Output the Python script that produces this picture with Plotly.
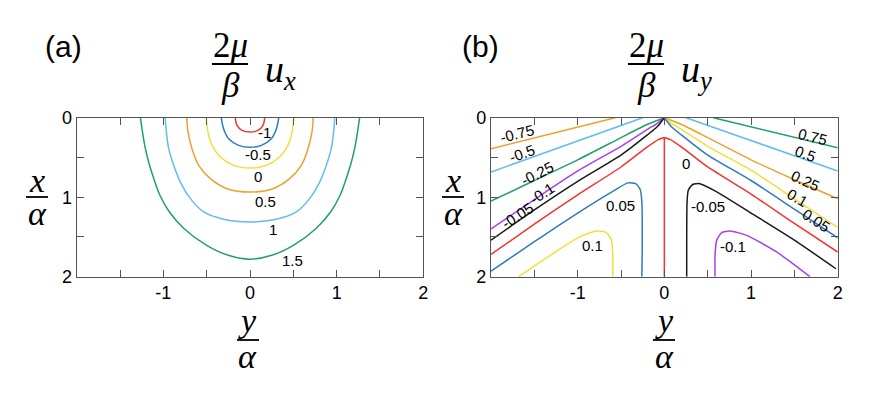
import plotly.graph_objects as go

# ---- panel (a): 2mu/beta * u_x, contour lines ----
# horizontal = y/a, vertical = x/a (depth)
ux_levels = ['-1', '-0.5', '0', '0.5', '1', '1.5']
ux_colors = ['#F4332E', '#2B7BC0', '#F3DE3A', '#EDA12B', '#62BDEC', '#21A06E']

ux_m1_y = [-0.17, -0.15, -0.092, 0, 0.092, 0.15, 0.17]
ux_m1_x = [0, 0.096, 0.159, 0.18, 0.159, 0.096, 0]
ux_m05_y = [-0.332, -0.305, -0.246, -0.131, 0, 0.131, 0.246, 0.305, 0.332]
ux_m05_x = [0, 0.138, 0.264, 0.348, 0.373, 0.348, 0.264, 0.138, 0]
ux_0_y = [-0.505, -0.485, -0.438, -0.342, -0.188, 0, 0.188, 0.342, 0.438, 0.485, 0.505]
ux_0_x = [0, 0.18, 0.348, 0.494, 0.60, 0.633, 0.60, 0.494, 0.348, 0.18, 0]
ux_05_y = [-0.73, -0.715, -0.669, -0.592, -0.457, -0.265, 0, 0.265, 0.457, 0.592, 0.669, 0.715, 0.73]
ux_05_x = [0, 0.18, 0.39, 0.60, 0.767, 0.893, 0.935, 0.893, 0.767, 0.60, 0.39, 0.18, 0]
ux_1_y = [-0.978, -0.965, -0.938, -0.880, -0.804, -0.688, -0.534, -0.304, 0,
          0.304, 0.534, 0.688, 0.804, 0.880, 0.938, 0.965, 0.978]
ux_1_x = [0, 0.18, 0.39, 0.60, 0.81, 1.018, 1.186, 1.278, 1.312,
          1.278, 1.186, 1.018, 0.81, 0.60, 0.39, 0.18, 0]
ux_15_y = [-1.265, -1.215, -1.17, -1.11, -1.04, -0.93, -0.76, -0.50, -0.25, 0,
           0.25, 0.50, 0.76, 0.93, 1.04, 1.11, 1.17, 1.215, 1.265]
ux_15_x = [0, 0.348, 0.557, 0.767, 0.976, 1.186, 1.396, 1.605, 1.731, 1.78,
           1.731, 1.605, 1.396, 1.186, 0.976, 0.767, 0.557, 0.348, 0]

ux_lab_text = ['-1', '-0.5', '0', '0.5', '1', '1.5']
ux_lab_y = [0.165, 0.089, 0.089, 0.177, 0.262, 0.492]
ux_lab_x = [0.184, 0.469, 0.742, 1.057, 1.404, 1.80]

# ---- panel (b): 2mu/beta * u_y ----
uy_m075_y = [-2.0, -0.565]
uy_m075_x = [0.39, 0]
uy_m05_y = [-2.0, -0.25]
uy_m05_x = [0.683, 0]
uy_m025_y = [-2.0, -1.5, -1.0, -0.5, -0.2, 0]
uy_m025_x = [1.05, 0.79, 0.53, 0.25, 0.085, 0]
uy_m01_y = [-2.0, -1.5, -1.0, -0.5, -0.2, -0.08, 0]
uy_m01_x = [1.40, 1.03, 0.67, 0.36, 0.15, 0.07, 0]
uy_m005_y = [-2.0, -1.5, -1.0, -0.5, -0.2, -0.08, 0]
uy_m005_x = [1.54, 1.16, 0.80, 0.47, 0.22, 0.11, 0]
uy_0l_y = [-2.0, -1.5, -1.0, -0.5, -0.2, -0.07, 0]
uy_0l_x = [1.72, 1.34, 0.97, 0.62, 0.37, 0.275, 0.25]
uy_005l_y = [-2.0, -1.5, -1.0, -0.6, -0.42, -0.33, -0.28, -0.26, -0.255, -0.26]
uy_005l_x = [1.93, 1.56, 1.2, 0.93, 0.82, 0.83, 0.9, 1.05, 1.6, 2.0]
uy_01l_y = [-1.68, -1.26, -0.96, -0.78, -0.67, -0.61, -0.595, -0.595]
uy_01l_x = [2.0, 1.69, 1.49, 1.425, 1.445, 1.54, 1.73, 2.0]
uy_0v_y = [0, 0]
uy_0v_x = [0.25, 2.0]

uy_075_y = [0.565, 2.0]
uy_075_x = [0, 0.377]
uy_05_y = [0.25, 2.0]
uy_05_x = [0, 0.67]
uy_025_y = [0, 0.2, 0.5, 1.0, 1.5, 2.0]
uy_025_x = [0, 0.085, 0.25, 0.53, 0.78, 1.02]
uy_01_y = [0, 0.08, 0.2, 0.5, 1.0, 1.5, 2.0]
uy_01_x = [0, 0.07, 0.15, 0.36, 0.66, 1.02, 1.38]
uy_005_y = [0, 0.08, 0.2, 0.5, 1.0, 1.5, 2.0]
uy_005_x = [0, 0.11, 0.22, 0.47, 0.79, 1.15, 1.51]
uy_0r_y = [0, 0.07, 0.2, 0.5, 1.0, 1.5, 2.0]
uy_0r_x = [0.25, 0.275, 0.37, 0.62, 0.96, 1.33, 1.69]
uy_m005r_y = [0.258, 0.258, 0.262, 0.277, 0.327, 0.41, 0.6, 1.0, 1.5, 1.98]
uy_m005r_x = [2.0, 1.6, 1.06, 0.91, 0.84, 0.83, 0.93, 1.2, 1.54, 1.9]
uy_m01r_y = [0.585, 0.585, 0.604, 0.662, 0.758, 0.95, 1.296, 1.68]
uy_m01r_x = [2.0, 1.73, 1.54, 1.446, 1.425, 1.48, 1.689, 2.0]

c_red, c_blue, c_yel, c_org = '#F4332E', '#2B7BC0', '#F3DE3A', '#EDA12B'
c_lblue, c_green, c_purp, c_blk = '#62BDEC', '#21A06E', '#A640EE', '#1A1A1A'

uy_lines = [
    (uy_m075_y, uy_m075_x, c_org), (uy_m05_y, uy_m05_x, c_lblue),
    (uy_m025_y, uy_m025_x, c_green), (uy_m01_y, uy_m01_x, c_purp),
    (uy_m005_y, uy_m005_x, c_blk), (uy_0l_y, uy_0l_x, c_red),
    (uy_005l_y, uy_005l_x, c_blue), (uy_01l_y, uy_01l_x, c_yel),
    (uy_0v_y, uy_0v_x, c_red),
    (uy_075_y, uy_075_x, c_green), (uy_05_y, uy_05_x, c_lblue),
    (uy_025_y, uy_025_x, c_org), (uy_01_y, uy_01_x, c_yel),
    (uy_005_y, uy_005_x, c_blue), (uy_0r_y, uy_0r_x, c_red),
    (uy_m005r_y, uy_m005r_x, c_blk), (uy_m01r_y, uy_m01r_x, c_purp),
]

uy_lab_text = ['-0.75', '-0.5', '-0.25', '-0.1', '-0.05', '0.05', '0.1', '0',
               '-0.05', '-0.1', '0.75', '0.5', '0.25', '0.1', '0.05']
uy_lab_y = [-1.70, -1.645, -1.47, -1.414, -1.70, -0.511, -0.83, 0.247,
            0.50, 0.796, 1.707, 1.623, 1.623, 1.534, 1.758]
uy_lab_x = [0.197, 0.448, 0.70, 0.951, 1.224, 1.107, 1.61, 0.574,
            1.12, 1.62, 0.239, 0.448, 0.784, 1.006, 1.287]
uy_lab_ang = [-14, -20, -27, -33, -33, 0, 0, 0, 0, 0, 14, 20, 25, 30, 33]

x_ticks = [-2, -1.5, -1, -0.5, 0, 0.5, 1, 1.5, 2]
x_ticktext = ['', '', '-1', '', '0', '', '1', '', '2']
y_ticks = [0, 0.5, 1, 1.5, 2]
y_ticktext = ['0', '', '1', '', '2']

# the page body has an 8px margin, so the figure sits at (8, 8) in the window
OFF = 8
W, H = 873 - 2 * OFF, 394 - 2 * OFF
SANS = 'Liberation Sans, Arial, sans-serif'
SERIF = 'Liberation Serif, Times New Roman, serif'


def fx(px):
    return (px - OFF) / W


def fy(py):
    return 1 - (py - OFF) / H


fig = go.Figure()

ux_curves = [(ux_m1_y, ux_m1_x), (ux_m05_y, ux_m05_x), (ux_0_y, ux_0_x),
             (ux_05_y, ux_05_x), (ux_1_y, ux_1_x), (ux_15_y, ux_15_x)]
for (yy, xx), col in zip(ux_curves, ux_colors):
    fig.add_trace(go.Scatter(x=yy, y=xx, mode='lines', xaxis='x', yaxis='y',
                             line=dict(color=col, width=1.5, shape='spline', smoothing=1.0),
                             hoverinfo='skip', showlegend=False))

for yy, xx, col in uy_lines:
    fig.add_trace(go.Scatter(x=yy, y=xx, mode='lines', xaxis='x2', yaxis='y2',
                             line=dict(color=col, width=1.5, shape='spline', smoothing=0.6),
                             hoverinfo='skip', showlegend=False))

ann = []
for t, yy, xx in zip(ux_lab_text, ux_lab_y, ux_lab_x):
    ann.append(dict(x=yy, y=xx, xref='x', yref='y', text=t, showarrow=False,
                    font=dict(family=SANS, size=15, color='black')))
for t, yy, xx, a in zip(uy_lab_text, uy_lab_y, uy_lab_x, uy_lab_ang):
    ann.append(dict(x=yy, y=xx, xref='x2', yref='y2', text=t, showarrow=False,
                    textangle=a, font=dict(family=SANS, size=15, color='black')))


def txt(x, y, s, size, family=SERIF):
    ann.append(dict(x=fx(x), y=fy(y), xref='paper', yref='paper', text=s,
                    showarrow=False, xanchor='center', yanchor='middle',
                    font=dict(family=family, size=size, color='black')))


shapes = []


def bar(x0, x1, y):
    shapes.append(dict(type='line', xref='paper', yref='paper',
                       x0=fx(x0), x1=fx(x1), y0=fy(y), y1=fy(y),
                       line=dict(color='black', width=1.8)))


# panel letters
txt(63, 47, '(a)', 30, SANS)
txt(480, 47, '(b)', 30, SANS)

# titles 2mu/beta u_x, u_y
for cx, sub in [(230, 'x'), (646, 'y')]:
    txt(cx, 46, '2<i>μ</i>', 35)
    bar(cx - 18, cx + 18, 64)
    txt(cx, 86, '<i>β</i>', 35)
    txt(cx + 50, 72, '<i>u</i><sub><i>%s</i></sub>' % sub, 38)

# axis labels x/alpha and y/alpha
for cx in [37, 453]:
    txt(cx, 180, '<i>x</i>', 34)
    bar(cx - 11, cx + 11, 197)
    txt(cx, 213, '<i>α</i>', 34)
for cx in [248, 664]:
    txt(cx, 320, '<i>y</i>', 34)
    bar(cx - 11, cx + 11, 340)
    txt(cx, 356, '<i>α</i>', 34)

axis_common = dict(showline=True, linecolor='#555555', linewidth=1.3, mirror='ticks',
                   ticks='inside', ticklen=7, tickcolor='#555555', tickwidth=1,
                   showgrid=False, zeroline=False, automargin=False,
                   tickfont=dict(family=SANS, size=18, color='black'))

fig.update_layout(
    width=W, height=H,
    margin=dict(l=0, r=0, t=0, b=0, autoexpand=False),
    paper_bgcolor='white', plot_bgcolor='white',
    showlegend=False,
    xaxis=dict(domain=[fx(76.7), fx(423.3)], range=[-2, 2], anchor='y',
               tickvals=x_ticks, ticktext=x_ticktext, **axis_common),
    yaxis=dict(domain=[fy(276.7), fy(117.7)], range=[2, 0], anchor='x',
               tickvals=y_ticks, ticktext=y_ticktext, **axis_common),
    xaxis2=dict(domain=[fx(491), fx(837.7)], range=[-2, 2], anchor='y2',
                tickvals=x_ticks, ticktext=x_ticktext, **axis_common),
    yaxis2=dict(domain=[fy(276.7), fy(117.7)], range=[2, 0], anchor='x2',
                tickvals=y_ticks, ticktext=y_ticktext, **axis_common),
    annotations=ann,
    shapes=shapes,
)

fig.write_html("out.html")
